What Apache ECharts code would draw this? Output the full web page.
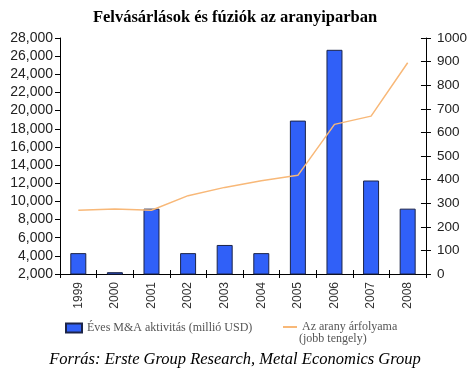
<!DOCTYPE html>
<html><head><meta charset="utf-8">
<script src="https://cdn.jsdelivr.net/npm/echarts@6/dist/echarts.min.js"></script>
<style>html,body{margin:0;padding:0;background:#fff}#c{width:470px;height:374px}</style>
</head><body><div id="c"></div>
<script>
const years = ['1999','2000','2001','2002','2003','2004','2005','2006','2007','2008'];
const maActivity = [4300, 2200, 9200, 4300, 5200, 4300, 18900, 26700, 12300, 9200];
const goldPrice = [270, 275, 270, 332, 367, 395, 418, 634, 669, 895];
const leftMin = 2000, leftMax = 28000, leftStep = 2000;
const rightMin = 0, rightMax = 1000, rightStep = 100;
const titleText = 'Felvásárlások és fúziók az aranyiparban';
const barName = 'Éves M&A aktivitás (millió USD)';
const lineName = 'Az arany árfolyama';
const lineName2 = '(jobb tengely)';
const sourceText = 'Forrás: Erste Group Research, Metal Economics Group';

const chart = echarts.init(document.getElementById('c'), null, {renderer:'canvas'});
const sans = 'Liberation Sans, Arial, sans-serif';
const serif = 'Liberation Serif, Times New Roman, serif';
chart.setOption({
  animation:false,
  title:{text:titleText, left:'center', top:4,
    textStyle:{fontFamily:serif, fontWeight:'bold', fontSize:16.5, color:'#000'}},
  grid:{left:60, right:43, top:38, bottom:100},
  legend:[
    {data:[barName], left:60, top:317, icon:'rect', itemWidth:16, itemHeight:9, itemGap:8,
     textStyle:{fontFamily:serif, fontSize:12, color:'#555'}},
    {data:[lineName], left:278, top:316, icon:'rect', itemWidth:14, itemHeight:2,
     textStyle:{fontFamily:serif, fontSize:12, color:'#555'}}
  ],
  graphic:[
    {type:'text', left:299, top:333, style:{text:lineName2, fontFamily:serif, fontSize:12, fill:'#555'}},
    {type:'text', left:'center', top:351, style:{text:sourceText, fontFamily:serif, fontStyle:'italic', fontSize:16.5, fill:'#000'}}
  ],
  xAxis:[
    {type:'category', data:years, position:'bottom',
     axisLine:{lineStyle:{color:'#000', width:1}},
     axisTick:{show:true, length:4, lineStyle:{color:'#000'}},
     axisLabel:{rotate:90, margin:8, color:'#333', fontFamily:sans, fontSize:12}},
    {type:'category', data:years, position:'bottom', gridIndex:0,
     axisLine:{show:false}, axisTick:{show:true, inside:true, length:4, lineStyle:{color:'#000'}},
     axisLabel:{show:false}}
  ],
  yAxis:[
    {type:'value', min:leftMin, max:leftMax, interval:leftStep, position:'left',
     splitLine:{show:false},
     axisLine:{show:true, lineStyle:{color:'#000'}},
     axisTick:{show:true, length:5, lineStyle:{color:'#000'}},
     axisLabel:{margin:7, color:'#222', fontFamily:sans, fontSize:14, formatter:v=>v.toLocaleString('en-US')}},
    {type:'value', min:rightMin, max:rightMax, interval:rightStep, position:'right',
     splitLine:{show:false},
     axisLine:{show:true, lineStyle:{color:'#000'}},
     axisTick:{show:true, length:5, lineStyle:{color:'#000'}},
     axisLabel:{margin:11, color:'#222', fontFamily:sans, fontSize:13.5, formatter:v=>String(v)}},
    {type:'value', min:rightMin, max:rightMax, interval:rightStep, position:'right',
     splitLine:{show:false}, axisLine:{show:false},
     axisTick:{show:true, inside:true, length:5, lineStyle:{color:'#000'}},
     axisLabel:{show:false}}
  ],
  series:[
    {name:barName, type:'bar', data:maActivity, barWidth:16, xAxisIndex:0, yAxisIndex:0,
     itemStyle:{color:'#3060f8', borderColor:'#1c2448', borderWidth:1}},
    {name:lineName, type:'line', data:goldPrice, xAxisIndex:0, yAxisIndex:1,
     symbol:'none', lineStyle:{color:'#f8b878', width:1.5}, itemStyle:{color:'#f8b878'}}
  ]
});
</script></body></html>
